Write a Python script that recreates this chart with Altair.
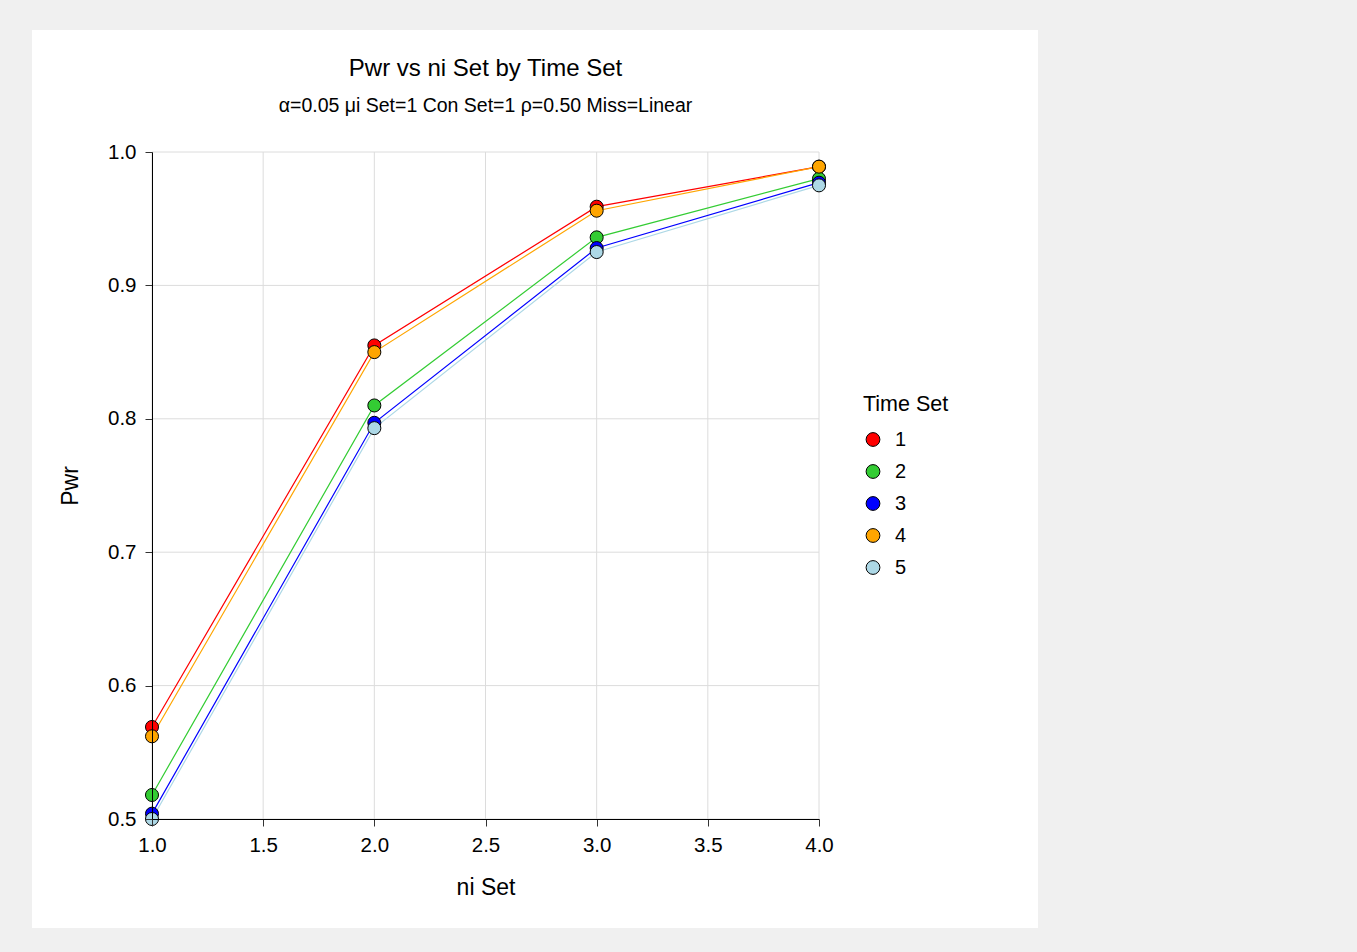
import altair as alt
import pandas as pd

ni_set = [1.0, 2.0, 3.0, 4.0]
series_names = ["1", "2", "3", "4", "5"]
pwr_1 = [0.569, 0.855, 0.959, 0.989]
pwr_2 = [0.518, 0.810, 0.936, 0.980]
pwr_3 = [0.504, 0.797, 0.928, 0.977]
pwr_4 = [0.562, 0.850, 0.956, 0.989]
pwr_5 = [0.500, 0.793, 0.925, 0.975]
colors = ["#ff0000", "#33cc33", "#0000ff", "#ffa500", "#add8e6"]
x_ticks = [1.0, 1.5, 2.0, 2.5, 3.0, 3.5, 4.0]
y_ticks = [0.5, 0.6, 0.7, 0.8, 0.9, 1.0]
title_text = "Pwr vs ni Set by Time Set"
subtitle_text = "α=0.05 μi Set=1 Con Set=1 ρ=0.50 Miss=Linear"

rows = []
for name, vals in zip(series_names, [pwr_1, pwr_2, pwr_3, pwr_4, pwr_5]):
    for x, y in zip(ni_set, vals):
        rows.append({"ni": x, "pwr": y, "series": name, "order": series_names.index(name)})
df = pd.DataFrame(rows)

FONT = "Liberation Sans"

x_scale = alt.Scale(domain=[1, 4], nice=False)
y_scale = alt.Scale(domain=[0.5, 1.0], nice=False, zero=False)
x_enc = alt.X("ni:Q", scale=x_scale,
              axis=alt.Axis(values=x_ticks, format=".1f", title="ni Set",
                            titlePadding=21, grid=False, zindex=1,
                            labelFlush=False, labelPadding=9))
y_enc = alt.Y("pwr:Q", scale=y_scale,
              axis=alt.Axis(values=y_ticks, format=".1f", title="Pwr",
                            titlePadding=25, grid=False, zindex=1,
                            labelFlush=False, labelPadding=9))

one = pd.DataFrame({"a": [0]})
panel = alt.Chart(one).mark_rect(color="white", clip=False).encode(
    x=alt.value(-120), x2=alt.value(886), y=alt.value(-122), y2=alt.value(776)
)

vgrid = alt.Chart(pd.DataFrame({"ni": x_ticks})).mark_rule(
    color="#dcdcdc", strokeWidth=1).encode(x=alt.X("ni:Q", scale=x_scale))
hgrid = alt.Chart(pd.DataFrame({"pwr": y_ticks})).mark_rule(
    color="#dcdcdc", strokeWidth=1).encode(y=alt.Y("pwr:Q", scale=y_scale))

title = alt.Chart(one).mark_text(text=title_text, font=FONT, fontSize=24,
                                 color="black", align="center", baseline="middle").encode(
    x=alt.value(333.5), y=alt.value(-83))
subtitle = alt.Chart(one).mark_text(text=subtitle_text, font=FONT, fontSize=19.5,
                                    color="black", align="center", baseline="middle").encode(
    x=alt.value(333.5), y=alt.value(-46))

lines = alt.Chart(df).mark_line(strokeWidth=1.2).encode(
    x=x_enc, y=y_enc,
    color=alt.Color("series:N", scale=alt.Scale(domain=series_names, range=colors),
                    legend=None),
    detail="series:N",
)

points = alt.Chart(df).mark_point(filled=True, size=170, stroke="black",
                                  strokeWidth=1, opacity=1).encode(
    x=x_enc, y=y_enc,
    fill=alt.Fill("series:N", scale=alt.Scale(domain=series_names, range=colors),
                  legend=alt.Legend(title="Time Set", orient="none", legendX=711,
                                    legendY=242, symbolType="circle", symbolSize=190,
                                    symbolStrokeColor="black", symbolStrokeWidth=1,
                                    symbolOpacity=1,
                                    rowPadding=12, labelOffset=12,
                                    titleFontSize=21.5, labelFontSize=20,
                                    titleFont=FONT, labelFont=FONT,
                                    titleFontWeight="normal", titlePadding=14,
                                    titleColor="black", labelColor="black")),
    order=alt.Order("order:Q"),
)

chart = alt.layer(panel, vgrid, hgrid, title, subtitle, lines, points).resolve_scale(
    color="independent", fill="independent"
).resolve_legend(color="independent", fill="independent").properties(
    width=667, height=667,
    autosize=alt.AutoSizeParams(type="none"),
    padding={"left": 152, "top": 152, "right": 538, "bottom": 133},
    background="#f0f0f0",
).configure_view(stroke=None).configure_axis(
    domainColor="black", domainWidth=1,
    tickColor="#333333", tickSize=7, labelFont=FONT, titleFont=FONT,
    labelFontSize=20.5, titleFontSize=23, titleFontWeight="normal",
    labelColor="black", titleColor="black",
)

chart.save("out.html", embed_options={"renderer": "svg", "actions": False})
